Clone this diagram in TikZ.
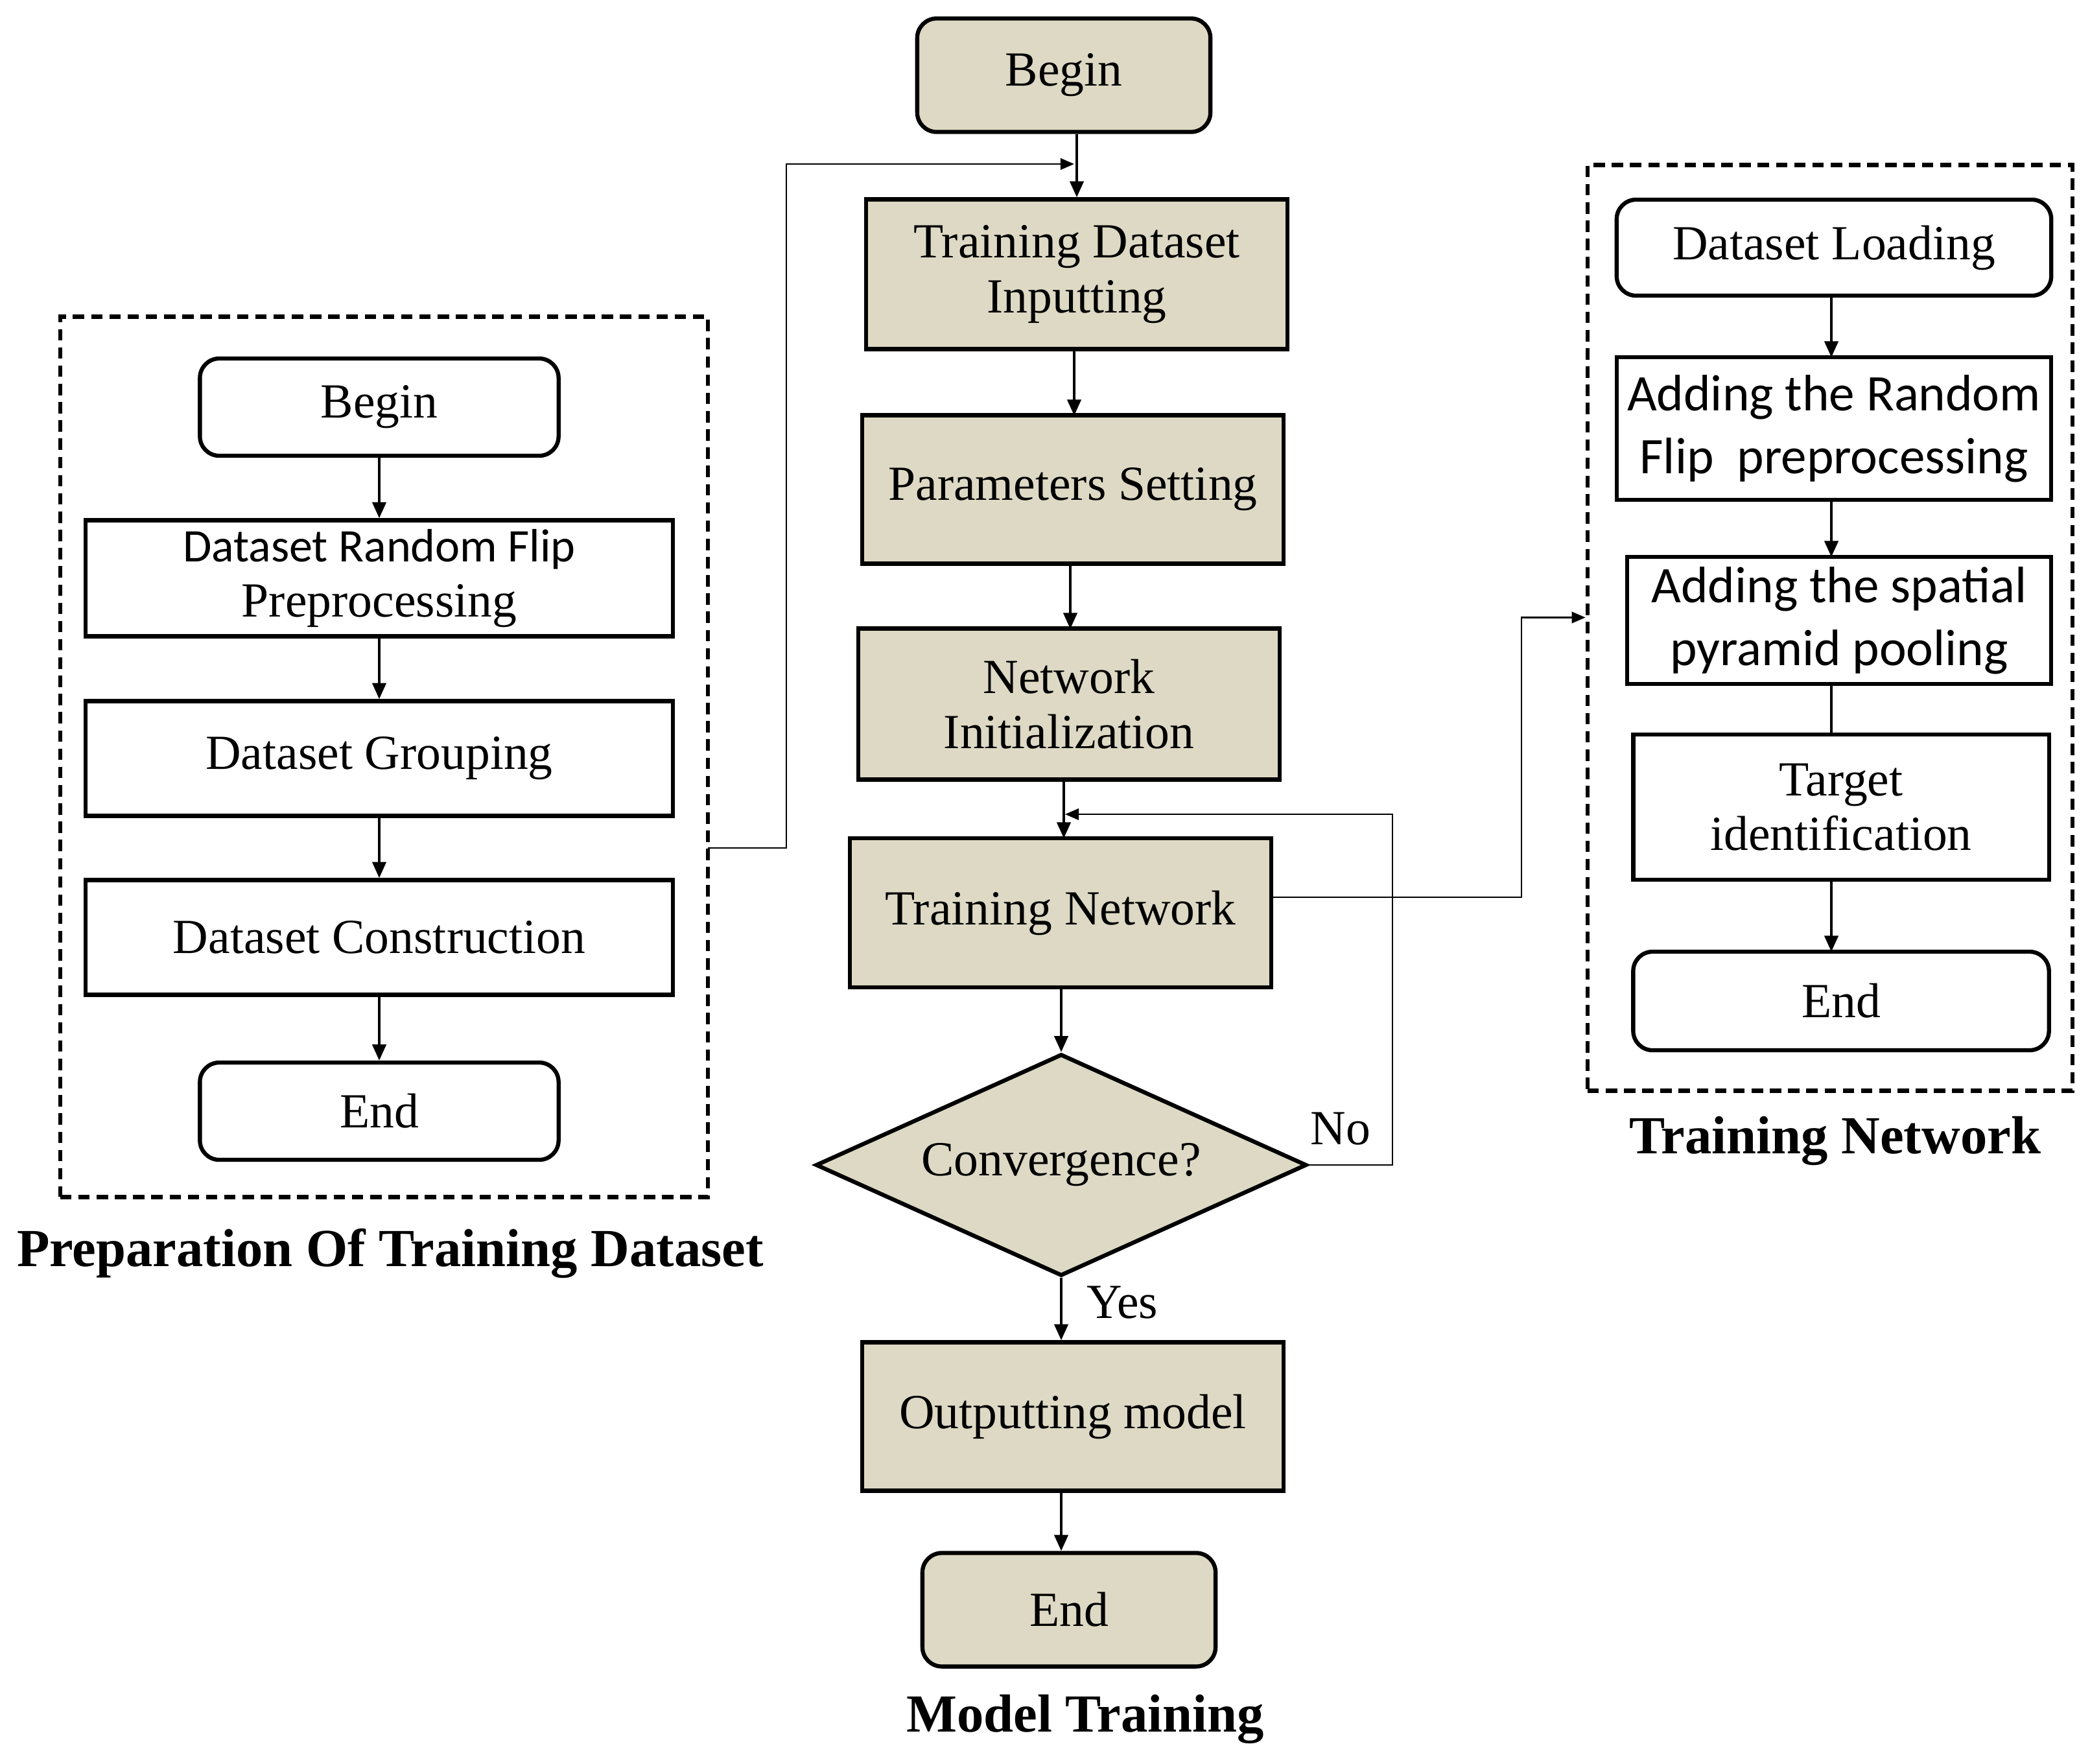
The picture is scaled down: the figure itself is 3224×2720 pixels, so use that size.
\documentclass[tikz,border=0pt]{standalone}
\usepackage{fontspec}
\setmainfont{Liberation Serif}
\newfontfamily\carlito{Carlito}
\usetikzlibrary{arrows.meta,shapes.geometric,calc}
\definecolor{mtan}{RGB}{221,217,196}
\begin{document}
\begin{tikzpicture}[x=0.01cm,y=-0.01cm,
 base/.style={draw=black, line width=1.8pt, inner sep=0pt, align=center, font=\fontsize{21.5}{24}\selectfont},
 mbox/.style={base, fill=mtan},
 wbox/.style={base, fill=white},
 rnd/.style={rounded corners=0.3cm},
 flow/.style={line width=1.1pt, -{Triangle[length=7pt,width=6pt]}},
 plain/.style={line width=1.1pt},
 fb/.style={line width=0.7pt, -{Triangle[length=6pt,width=5pt]}},
 dashframe/.style={draw, line width=1.8pt, dash pattern=on 5pt off 3pt, inner sep=0pt},
 lbl/.style={font=\fontsize{23.5}{26}\selectfont\bfseries},
 sans/.style={font=\carlito\fontsize{22.5}{27.5}\selectfont}
]
\useasboundingbox (0,0) rectangle (3224,2720);

% ---------- middle column ----------
\node[mbox, rnd, minimum width=4.52cm, minimum height=1.75cm] (mbegin) at (1641,116) {Begin};
\node[mbox, minimum width=6.50cm, minimum height=2.31cm] (tdi) at (1661,423) {Training Dataset\\Inputting};
\node[mbox, minimum width=6.50cm, minimum height=2.29cm] (ps) at (1655,755) {Parameters Setting};
\node[mbox, minimum width=6.50cm, minimum height=2.33cm] (ni) at (1649,1086) {Network\\Initialization};
\node[mbox, minimum width=6.49cm, minimum height=2.30cm] (tn) at (1636,1408) {Training Network};
\node[mbox, diamond, aspect=2.21, minimum width=7.57cm, minimum height=3.42cm] (conv) at (1637,1797) {Convergence?};
\node[mbox, minimum width=6.50cm, minimum height=2.29cm] (out) at (1655,2185) {Outputting model};
\node[mbox, rnd, minimum width=4.52cm, minimum height=1.75cm] (mend) at (1649,2483) {End};
\node[lbl] (mlabel) at (1674,2652) {Model Training};

\draw[flow] (tdi.north |- mbegin.south) -- (tdi.north);
\draw[flow] (1657,539) -- (1657,641);
\draw[flow] (1651,870) -- (1651,970);
\draw[flow] (1641,1203) -- (1641,1293);
\draw[flow] (conv.north |- tn.south) -- (conv.north);
\draw[flow] (conv.south) -- (conv.south |- out.north);
\draw[flow] (conv.south |- out.south) -- (conv.south |- mend.north);
\node[font=\fontsize{21.5}{24}\selectfont] (yes) at (1731,2009) {Yes};
\node[font=\fontsize{21.5}{24}\selectfont] (no) at (2068,1741) {No};

% ---------- left column ----------
\node[dashframe, minimum width=9.99cm, minimum height=13.57cm] (lframe) at (592.5,1167.5) {};
\node[wbox, rnd, minimum width=5.53cm, minimum height=1.50cm] (lbegin) at (585,628) {Begin};
\node[wbox, minimum width=9.06cm, minimum height=1.79cm] (lflip) at (585,892) {{\carlito\fontsize{20.5}{24}\selectfont Dataset Random Flip}\\Preprocessing};
\node[wbox, minimum width=9.06cm, minimum height=1.77cm] (lgroup) at (585,1170) {Dataset Grouping};
\node[wbox, minimum width=9.06cm, minimum height=1.77cm] (lcons) at (585,1446) {Dataset Construction};
\node[wbox, rnd, minimum width=5.53cm, minimum height=1.50cm] (lend) at (585,1714) {End};
\node[lbl] (llabel) at (602,1933) {Preparation Of Training Dataset};

\draw[flow] (lbegin) -- (lflip);
\draw[flow] (lflip) -- (lgroup);
\draw[flow] (lgroup) -- (lcons);
\draw[flow] (lcons) -- (lend);

% ---------- right column ----------
\node[dashframe, minimum width=7.48cm, minimum height=14.27cm] (rframe) at (2823,968.5) {};
\node[wbox, rnd, minimum width=6.70cm, minimum height=1.48cm] (rload) at (2829,382) {Dataset Loading};
\node[wbox, sans, minimum width=6.70cm, minimum height=2.20cm] (rflip) at (2829,661) {Adding the Random\\Flip\ \ preprocessing};
\node[wbox, sans, minimum width=6.54cm, minimum height=1.96cm] (rspp) at (2837,957) {Adding the spatial\\pyramid pooling};
\node[wbox, minimum width=6.41cm, minimum height=2.24cm] (rtarget) at (2840,1245) {Target\\identification};
\node[wbox, rnd, minimum width=6.41cm, minimum height=1.52cm] (rend) at (2840,1544) {End};
\node[lbl] (rlabel) at (2831,1760) {Training Network};

\draw[flow] (2825,456) -- (2825,551);
\draw[flow] (2825,771) -- (2825,859);
\draw[plain] (2825,1055) -- (2825,1133);
\draw[flow] (2825,1357) -- (2825,1468);

% ---------- feedback connectors ----------
\coordinate (lout) at (1092,1308);
\coordinate (j1) at (1657,253);
\draw[fb] (lout) -- ++(121,0) |- (j1);

\coordinate (j2) at (1643,1256);
\draw[fb] (conv.east) -- ++(129,0) |- (j2);

\draw[fb] ([yshift=0.24cm]tn.east) -- ++(383,0) |- ([yshift=0.16cm]rframe.west);
\end{tikzpicture}
\end{document}
